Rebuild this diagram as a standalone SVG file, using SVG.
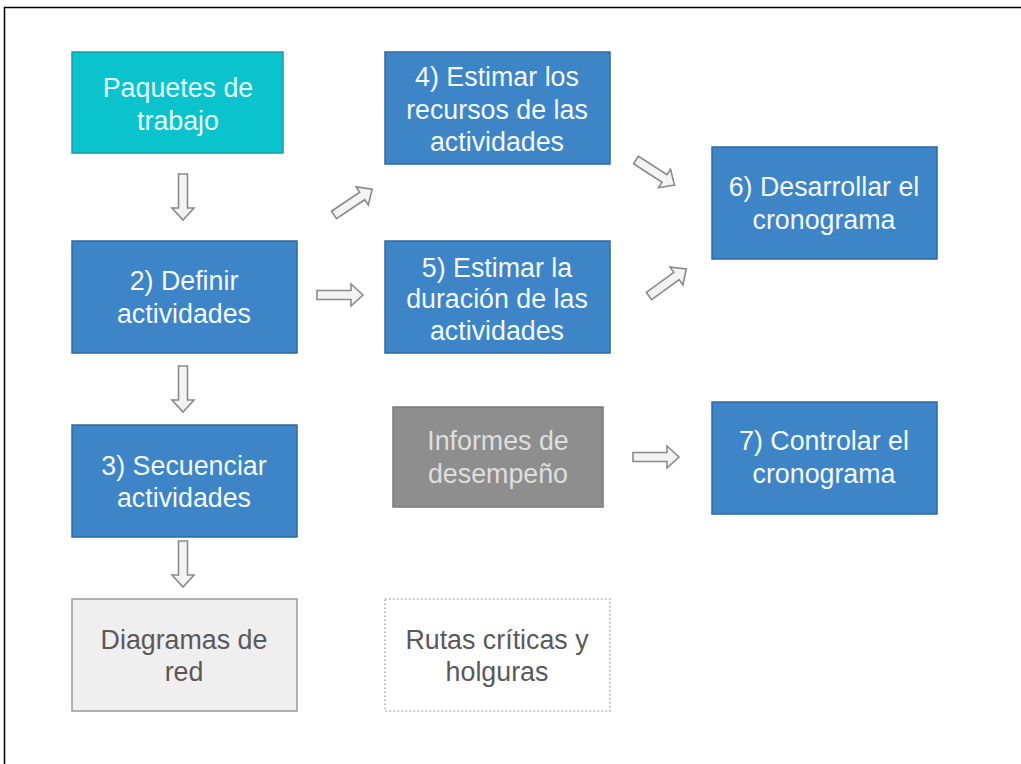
<svg xmlns="http://www.w3.org/2000/svg" width="1021" height="764" viewBox="0 0 1021 764">
<style>
text{font-family:"Liberation Sans",Arial,sans-serif;font-size:26.8px;text-anchor:middle}
.blue rect{fill:#3d85c6;stroke:#2e6aa3;stroke-width:1.5}
.blue text{fill:#f4f8fc}
.arrow{fill:#f3f3f3;stroke:#8a8a8a;stroke-width:1.6;stroke-linejoin:miter}
</style>
<defs>
<path id="blk" d="M0,-4.5 H34 V-11 L46,0 L34,11 V4.5 H0 Z"/>
</defs>
<rect x="0" y="0" width="1021" height="764" fill="#ffffff"/>
<path d="M4.5,764 V7.5 H1021" fill="none" stroke="#000" stroke-width="1.5"/>

<g id="n1">
<rect x="72" y="52" width="211" height="101" fill="#0bc3cc" stroke="#1a9ea5" stroke-width="1.5"/>
<text x="178" y="97" fill="#e6fafa">Paquetes de</text>
<text x="178" y="130" fill="#e6fafa">trabajo</text>
</g>
<g id="n4" class="blue">
<rect x="385" y="52" width="225" height="112"/>
<text x="497" y="86">4) Estimar los</text>
<text x="497" y="119">recursos de las</text>
<text x="497" y="151">actividades</text>
</g>
<g id="n6" class="blue">
<rect x="712" y="147" width="225" height="112"/>
<text x="824" y="196">6) Desarrollar el</text>
<text x="824" y="229">cronograma</text>
</g>
<g id="n2" class="blue">
<rect x="72" y="241" width="225" height="112"/>
<text x="184" y="290">2) Definir</text>
<text x="184" y="323">actividades</text>
</g>
<g id="n5" class="blue">
<rect x="385" y="241" width="225" height="112"/>
<text x="497" y="277">5) Estimar la</text>
<text x="497" y="308">duración de las</text>
<text x="497" y="340">actividades</text>
</g>
<g id="n3" class="blue">
<rect x="72" y="425" width="225" height="112"/>
<text x="184" y="475">3) Secuenciar</text>
<text x="184" y="507">actividades</text>
</g>
<g id="n8">
<rect x="393" y="407" width="210" height="100" fill="#8e8e8e" stroke="#7a7a7a" stroke-width="1.5"/>
<text x="498" y="450" fill="#dedede">Informes de</text>
<text x="498" y="483" fill="#dedede">desempeño</text>
</g>
<g id="n7" class="blue">
<rect x="712" y="402" width="225" height="112"/>
<text x="824" y="450">7) Controlar el</text>
<text x="824" y="483">cronograma</text>
</g>
<g id="n9">
<rect x="72" y="599" width="225" height="112" fill="#efefef" stroke="#9a9a9a" stroke-width="1.5"/>
<text x="184" y="649" fill="#595959">Diagramas de</text>
<text x="184" y="681" fill="#595959">red</text>
</g>
<g id="n10">
<rect x="385" y="599" width="225" height="112" fill="#ffffff" stroke="#a8a8a8" stroke-width="1.5" stroke-dasharray="1.5,2.5"/>
<text x="497" y="649" fill="#595959">Rutas críticas y</text>
<text x="497" y="681" fill="#595959">holguras</text>
</g>

<g id="connectors">
<use href="#blk" class="arrow" transform="translate(183,174) rotate(90)"/>
<use href="#blk" class="arrow" transform="translate(183,366) rotate(90)"/>
<use href="#blk" class="arrow" transform="translate(183,541) rotate(90)"/>
<use href="#blk" class="arrow" transform="translate(317,295)"/>
<use href="#blk" class="arrow" transform="translate(334,215) rotate(-34)"/>
<use href="#blk" class="arrow" transform="translate(636,160) rotate(33)"/>
<use href="#blk" class="arrow" transform="translate(649,296) rotate(-36)"/>
<use href="#blk" class="arrow" transform="translate(633,457)"/>
</g>
</svg>
